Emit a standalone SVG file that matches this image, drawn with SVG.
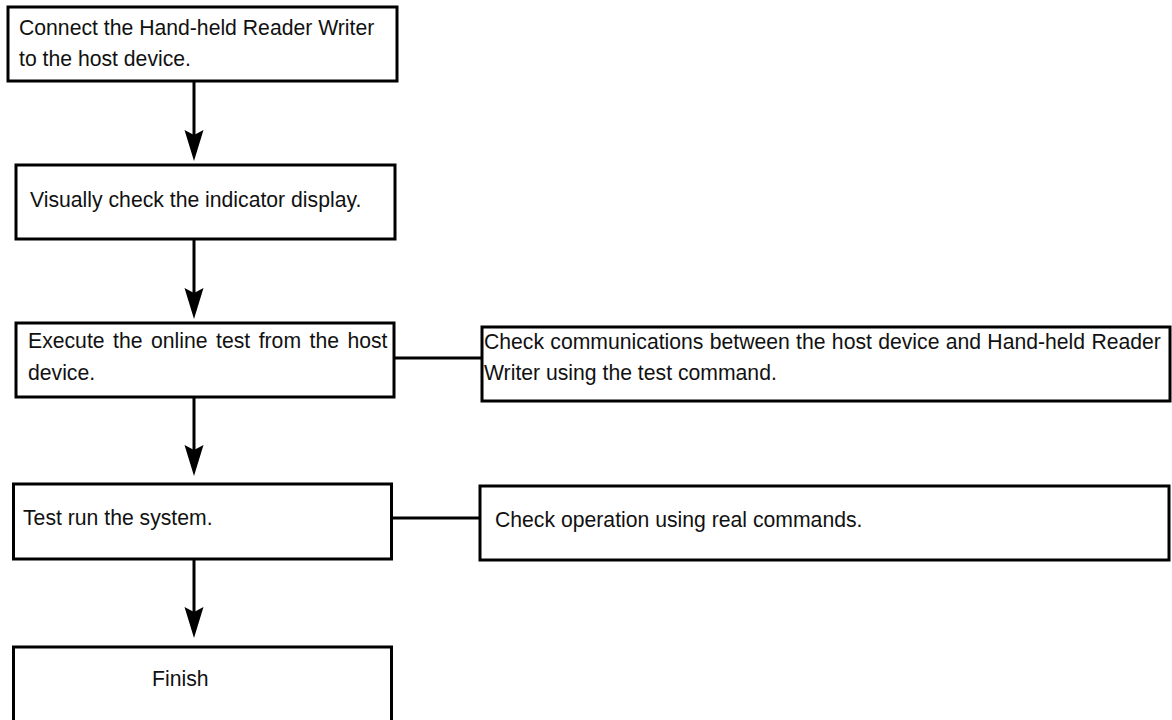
<svg xmlns="http://www.w3.org/2000/svg" xmlns:xlink="http://www.w3.org/1999/xlink" width="1172" height="720" viewBox="0 0 1172 720">
<style>
.box{fill:#fff;stroke:#000;stroke-width:3}
.ln{stroke:#000;stroke-width:3;fill:none}
.t{font-family:"Liberation Sans",Arial,Helvetica,sans-serif;font-size:21.2px;fill:#111}
</style>
<defs>
<path id="ah" d="M-9.5,0 L0,5 L9.5,0 L0,31 Z" fill="#000"/>
</defs>
<rect width="1172" height="720" fill="#fff"/>
<g id="connectors">
<line class="ln" x1="194" y1="81" x2="194" y2="140"/>
<use xlink:href="#ah" x="194" y="130"/>
<line class="ln" x1="194" y1="239" x2="194" y2="296"/>
<use xlink:href="#ah" x="194" y="288"/>
<line class="ln" x1="194" y1="397" x2="194" y2="455"/>
<use xlink:href="#ah" x="194" y="445"/>
<line class="ln" x1="194" y1="559" x2="194" y2="617"/>
<use xlink:href="#ah" x="194" y="607"/>
<line class="ln" x1="394" y1="358" x2="482" y2="358"/>
<line class="ln" x1="391" y1="518" x2="480" y2="518"/>
</g>
<g id="n1">
<rect class="box" x="8" y="7" width="389" height="74"/>
<text class="t" x="19" y="35">Connect the Hand-held Reader Writer</text>
<text class="t" x="19" y="66">to the host device.</text>
</g>
<g id="n2">
<rect class="box" x="16" y="165" width="379" height="74"/>
<text class="t" x="30" y="207">Visually check the indicator display.</text>
</g>
<g id="n3">
<rect class="box" x="16" y="323" width="378" height="74"/>
<text class="t" x="28" y="348" word-spacing="2.6">Execute the online test from the host</text>
<text class="t" x="28" y="380">device.</text>
</g>
<g id="n4">
<rect class="box" x="482" y="327" width="688" height="74"/>
<text class="t" x="484" y="349" word-spacing="0.4">Check communications between the host device and Hand-held Reader</text>
<text class="t" x="484" y="380">Writer using the test command.</text>
</g>
<g id="n5">
<rect class="box" x="13.5" y="484" width="378" height="75"/>
<text class="t" x="23" y="525">Test run the system.</text>
</g>
<g id="n6">
<rect class="box" x="480" y="486" width="689" height="74"/>
<text class="t" x="495" y="527">Check operation using real commands.</text>
</g>
<g id="n7">
<rect class="box" x="13.5" y="647" width="378" height="80"/>
<text class="t" x="152" y="686">Finish</text>
</g>
</svg>
